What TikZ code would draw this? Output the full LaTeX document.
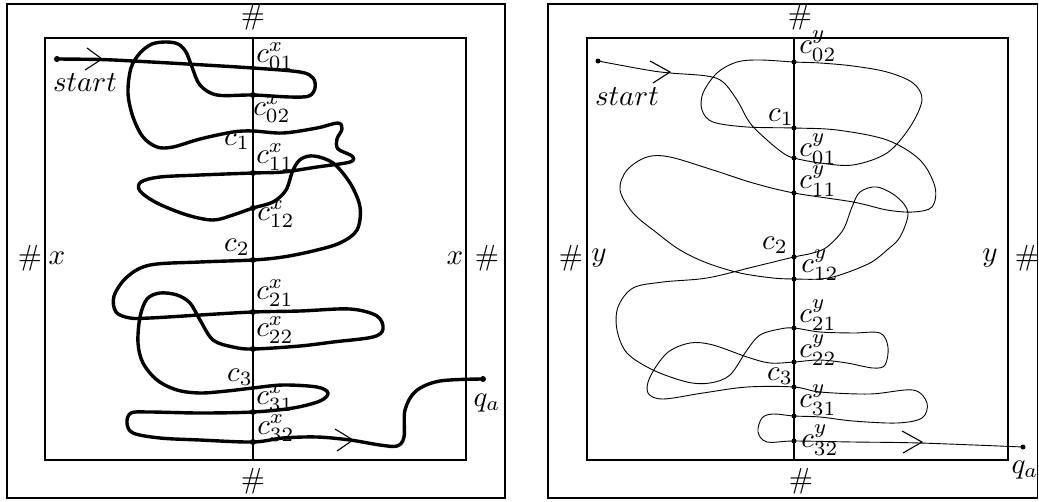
\documentclass[tikz,border=0pt]{standalone}
\begin{document}
\begin{tikzpicture}[x=1pt,y=-1pt,
  box/.style={line width=1.2pt},
  axis/.style={line width=1.2pt},
  thickpath/.style={line width=3.4pt, line cap=round, line join=round},
  thinpath/.style={line width=0.9pt},
  chev/.style={line width=1.1pt},
  lbl/.style={inner sep=0pt, scale=2.9},
  dotL/.style={circle, fill=black, inner sep=0pt, minimum size=6pt},
  dotR/.style={circle, fill=black, inner sep=0pt, minimum size=5pt}]
\useasboundingbox (0,0) rectangle (1039,501);

% ---------------- LEFT PANEL ----------------
\draw[box] (7,4) rectangle (505,498);
\draw[box] (45,38) rectangle (466,460);
\coordinate (Ltop) at (253,38);
\coordinate (Lbot) at (253,460);
\draw[axis] (Ltop) -- (Lbot);

\coordinate (Ls) at (57,59);
\coordinate (L01) at (253,68);
\coordinate (L02) at (253,95);
\coordinate (L1) at (253,131);
\coordinate (L11) at (253,173);
\coordinate (L12) at (253,208);
\coordinate (L2) at (253,260);
\coordinate (L21) at (253,312);
\coordinate (L22) at (253,349);
\coordinate (L3) at (253,388);
\coordinate (L31) at (253,412);
\coordinate (L32) at (253,442);
\coordinate (Le) at (483,379);

\draw[thickpath] plot[smooth, tension=0.55] coordinates {
 (Ls) (100,59.5) (133,61) (187,64) (L01) (300,72) (313,78) (315,88) (309,96) (290,97) (L02)
 (217,95) (200,85) (192,67) (186,52) (178,44) (166,42) (152,44) (140,53) (131,68) (128,93)
 (133,117) (143,137) (157,147) (173,147) (200,139) (233,132) (L1)
 (283,133) (317,128) (338,123) (342,129) (337,139) (338,149) (352,156) (350,162) (317,167) (283,172) (L11)
 (200,175) (160,177) (141,182) (140,191) (157,203) (187,215) (213,220) (233,215) (L12)
 (273,202) (286,190) (293,170) (301,159) (314,156) (333,163) (350,183) (360,207) (357,230) (340,243) (313,251) (283,257) (L2)
 (200,262) (150,265) (127,277) (114,296) (116,312) (130,318) (150,318) (200,315) (L21)
 (300,311) (350,309) (377,316) (383,329) (373,337) (333,342) (300,346) (L22)
 (233,347) (213,340) (200,320) (190,303) (177,295) (160,293) (147,299) (140,317) (138,343) (143,363) (157,380) (177,390) (200,393) (227,391) (L3)
 (283,385) (317,387) (328,393) (320,401) (293,408) (L31)
 (200,413) (150,412) (131,413) (127,423) (133,433) (160,438) (200,440) (L32)
 (283,438) (317,437) (350,440) (380,445) (397,446) (404,437) (405,410) (416,391) (440,381) (Le) };

\foreach \p in {Ls,L02,L11,L12,L2,L21,L22,L31,L32,Le} \node[dotL] at (\p) {};

\coordinate (La1) at (102,59);
\draw[chev] (87,48) -- (La1) -- (85,70);
\coordinate (La2) at (353,440);
\draw[chev] (335,429) -- (La2) -- (337,451);

\node[lbl] (Lh1) at (253,17) {$\#$};
\node[lbl] (Lh2) at (253,481) {$\#$};
\node[lbl] (Lh3) at (30,258) {$\#$};
\node[lbl] (Lx1) at (57,258) {$x$};
\node[lbl] (Lx2) at (455,258) {$x$};
\node[lbl] (Lh4) at (487,258) {$\#$};
\node[lbl] (Lst) at (85,83) {$start$};
\node[lbl] (Lqa) at (487,403) {$q_a$};
\node[lbl] (Lc01) at (275,56) {$c^x_{01}$};
\node[lbl] (Lc02) at (272,109) {$c^x_{02}$};
\node[lbl] (Lc1) at (237,141) {$c_1$};
\node[lbl] (Lc11) at (275,157) {$c^x_{11}$};
\node[lbl] (Lc12) at (276,214) {$c^x_{12}$};
\node[lbl] (Lc2) at (237,247) {$c_2$};
\node[lbl] (Lc21) at (275,293) {$c^x_{21}$};
\node[lbl] (Lc22) at (275,330) {$c^x_{22}$};
\node[lbl] (Lc3) at (240,377) {$c_3$};
\node[lbl] (Lc31) at (275,398) {$c^x_{31}$};
\node[lbl] (Lc32) at (276,428) {$c^x_{32}$};

% ---------------- RIGHT PANEL ----------------
\draw[box] (548,4) rectangle (1037.5,498);
\draw[box] (587,38) rectangle (1008,460);
\coordinate (Rtop) at (794,38);
\coordinate (Rbot) at (794,460);
\draw[axis] (Rtop) -- (Rbot);

\coordinate (Rs) at (598,61);
\coordinate (R01) at (794,158);
\coordinate (R02) at (794,62);
\coordinate (R1) at (794,128);
\coordinate (R11) at (794,193);
\coordinate (R12) at (794,279);
\coordinate (R2) at (794,257);
\coordinate (R21) at (794,328);
\coordinate (R22) at (794,362);
\coordinate (R3) at (794,387);
\coordinate (R31) at (794,416);
\coordinate (R32) at (794,441);
\coordinate (Re) at (1023,447);

\draw[thinpath] plot[smooth, tension=0.55] coordinates {
 (Rs) (647,70) (670,73) (707,76) (723,82) (737,100) (750,123) (767,140) (783,153) (R01)
 (820,163) (853,165) (887,153) (910,127) (922,100) (913,83) (887,72) (853,66) (820,63) (R02)
 (760,60) (737,62) (717,73) (703,93) (702,110) (713,122) (747,127) (R1)
 (837,130) (887,140) (920,160) (935,187) (932,207) (913,212) (887,210) (853,202) (R11)
 (753,183) (713,170) (670,157) (647,157) (627,170) (620,190) (633,213) (657,233) (680,250) (707,263) (740,273) (773,278) (R12)
 (820,279) (840,275) (870,263) (887,250) (900,237) (908,213) (897,197) (877,187) (860,192) (852,207) (843,230) (827,247) (813,253) (R2)
 (753,267) (707,278) (663,282) (633,288) (618,307) (617,330) (627,353) (653,370) (687,382) (710,383) (730,375) (747,350) (760,335) (780,329) (R21)
 (820,332) (853,333) (880,333) (888,347) (885,365) (873,368) (847,363) (820,360) (R22)
 (770,363) (747,357) (713,345) (690,343) (667,353) (650,377) (648,393) (663,399) (703,393) (747,387) (R3)
 (820,392) (870,394) (913,390) (927,403) (922,418) (897,423) (853,421) (820,417) (R31)
 (773,414) (762,418) (758,432) (767,442) (R32)
 (853,442) (920,443) (Re) };

\foreach \p in {Rs,R01,R02,R1,R11,R12,R2,R21,R22,R3,R31,R32,Re} \node[dotR] at (\p) {};

\coordinate (Ra1) at (670,72);
\draw[chev] (650,61) -- (Ra1) -- (653,83);
\coordinate (Ra2) at (922,442);
\draw[chev] (902,431) -- (Ra2) -- (903,453);

\node[lbl] (Rh1) at (800,17) {$\#$};
\node[lbl] (Rh2) at (801,481) {$\#$};
\node[lbl] (Rh3) at (571,258) {$\#$};
\node[lbl] (Ry1) at (599,258) {$y$};
\node[lbl] (Ry2) at (990,258) {$y$};
\node[lbl] (Rh4) at (1027,258) {$\#$};
\node[lbl] (Rst) at (627,97) {$start$};
\node[lbl] (Rqa) at (1025,470) {$q_a$};
\node[lbl] (Rc02) at (818,46) {$c^y_{02}$};
\node[lbl] (Rc1) at (781,117) {$c_1$};
\node[lbl] (Rc01) at (818,149) {$c^y_{01}$};
\node[lbl] (Rc11) at (818,181) {$c^y_{11}$};
\node[lbl] (Rc2) at (775,245) {$c_2$};
\node[lbl] (Rc12) at (820,265) {$c^y_{12}$};
\node[lbl] (Rc21) at (818,315) {$c^y_{21}$};
\node[lbl] (Rc22) at (818,350) {$c^y_{22}$};
\node[lbl] (Rc3) at (780,376) {$c_3$};
\node[lbl] (Rc31) at (818,400) {$c^y_{31}$};
\node[lbl] (Rc32) at (820,440) {$c^y_{32}$};
\end{tikzpicture}
\end{document}
